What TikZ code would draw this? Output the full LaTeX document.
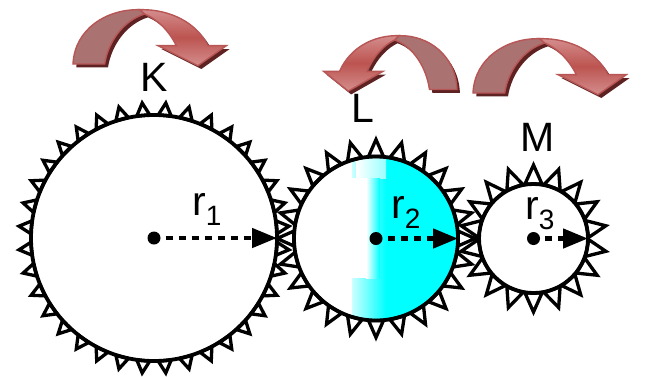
\documentclass[tikz,border=0pt]{standalone}
\usepackage{fontspec}
\setmainfont{Liberation Sans}
\usetikzlibrary{positioning, arrows.meta}
\definecolor{arrowedge}{HTML}{B85555}
\definecolor{arrowflat}{HTML}{AB7272}
\definecolor{arrowdark}{HTML}{5E2222}
\definecolor{arrowmid}{HTML}{BC5450}
\definecolor{arrowlight}{HTML}{D48E8E}
\definecolor{wheelcyan}{HTML}{00FFFF}
\newcommand{\gearfont}{\fontsize{41}{41}\selectfont}
\newcommand{\radlabel}[1]{r\raisebox{-10pt}{\fontsize{28}{28}\selectfont #1}}
\tikzset{
	gear/.style={circle, draw, line width=3.8pt, inner sep=0pt, outer sep=0pt},
	tooth/.style={draw, line width=3.3pt, miter limit=10},
	hub/.style={circle, fill, inner sep=0pt, outer sep=0pt, minimum size=13pt},
	radius arrow/.style={line width=4.6pt, dash pattern=on 7pt off 6pt, dash phase=8pt, -{Triangle[length=25pt,width=19pt]}},
	gearlabel/.style={inner sep=0pt, font=\gearfont},
	radlabelnode/.style={inner sep=0pt, anchor=base west, font=\gearfont},
	pics/turnarrow/.style={code={
		\fill[arrowdark, shift={(#1,10)}] (0,165) .. controls (5,60) and (100,0) .. (200,2) .. controls (290,0) and (370,40) .. (405,110) -- (460,110) -- (375,170) -- (255,110) -- (310,110) .. controls (285,60) and (250,30) .. (215,15) .. controls (150,35) and (105,100) .. (95,165) -- cycle;
		\draw[arrowedge, line width=1.4pt, fill=arrowflat] (0,165) .. controls (5,60) and (100,0) .. (200,2) -- (215,15) .. controls (150,35) and (105,100) .. (95,165) -- cycle;
		\draw[arrowedge, line width=1.4pt, top color=arrowlight, bottom color=arrowlight, middle color=arrowmid] (200,2) .. controls (290,0) and (370,40) .. (405,110) -- (460,110) -- (375,170) -- (255,110) -- (310,110) .. controls (285,60) and (250,30) .. (215,15) -- cycle;
	}},
}
\begin{document}
\begin{tikzpicture}[x=1pt, y=-1pt]
	\useasboundingbox (0,0) rectangle (645,376);
	\fill[white] (0,0) rectangle (645,376);

	% arrows on top
	\pic (turnK) at (73,9) [scale=1/3] {turnarrow=10};
	\pic (turnL) at (457,35) [xscale=-0.29, yscale=0.33] {turnarrow=-10};
	\pic (turnM) at (473,38) [scale=1/3] {turnarrow=10};

	% cyan part of the middle wheel
	\begin{scope}
		\clip (376,238.5) circle (82);
		\shade[left color=wheelcyan!20, right color=wheelcyan] (352,150) rectangle (386,330);
		\fill[wheelcyan] (386,150) rectangle (460,330);
		\shade[left color=white, right color=wheelcyan!40] (356,150) rectangle (386,178);
		\fill[white] (350,178) rectangle (366,278);
		\shade[left color=white, right color=wheelcyan] (366,178) rectangle (380,278);
	\end{scope}

	\node[gear, minimum size=246pt] (K) at (154,238) {};
	\node[gear, minimum size=164pt] (L) at (376,238.5) {};
	\node[gear, minimum size=109pt] (M) at (533.5,238.5) {};

	\foreach \gear/\rad/\step/\first/\high/\half in {K/123/10/5/12.5/6.5, L/82/15/0/17/7.5, M/54.5/20/10/19/8.5} {
		\foreach \n in {0,...,35} {
			\pgfmathsetmacro{\a}{\first+\n*\step}
			\ifdim\a pt<360pt
				\draw[tooth, shift={(\gear.center)}, rotate=\a] (\rad,-\half) -- (\rad+\high,0) -- (\rad,\half) -- cycle;
			\fi
		}
	}

	\node[gearlabel] (labK) at (154,77) {K};
	\node[gearlabel] (labL) at (363,108) {L};
	\node[gearlabel] (labM) at (538,137) {M};

	\node[radlabelnode] (radK) at (192,215) {\radlabel{1}};
	\node[radlabelnode] (radL) at (391,218) {\radlabel{2}};
	\node[radlabelnode] (radM) at (525,219) {\radlabel{3}};

	\foreach \gear in {K,L,M} {
		\node[hub] (hub\gear) at (\gear.center) {};
		\draw[radius arrow] (hub\gear) -- (\gear.east);
	}
\end{tikzpicture}
\end{document}
